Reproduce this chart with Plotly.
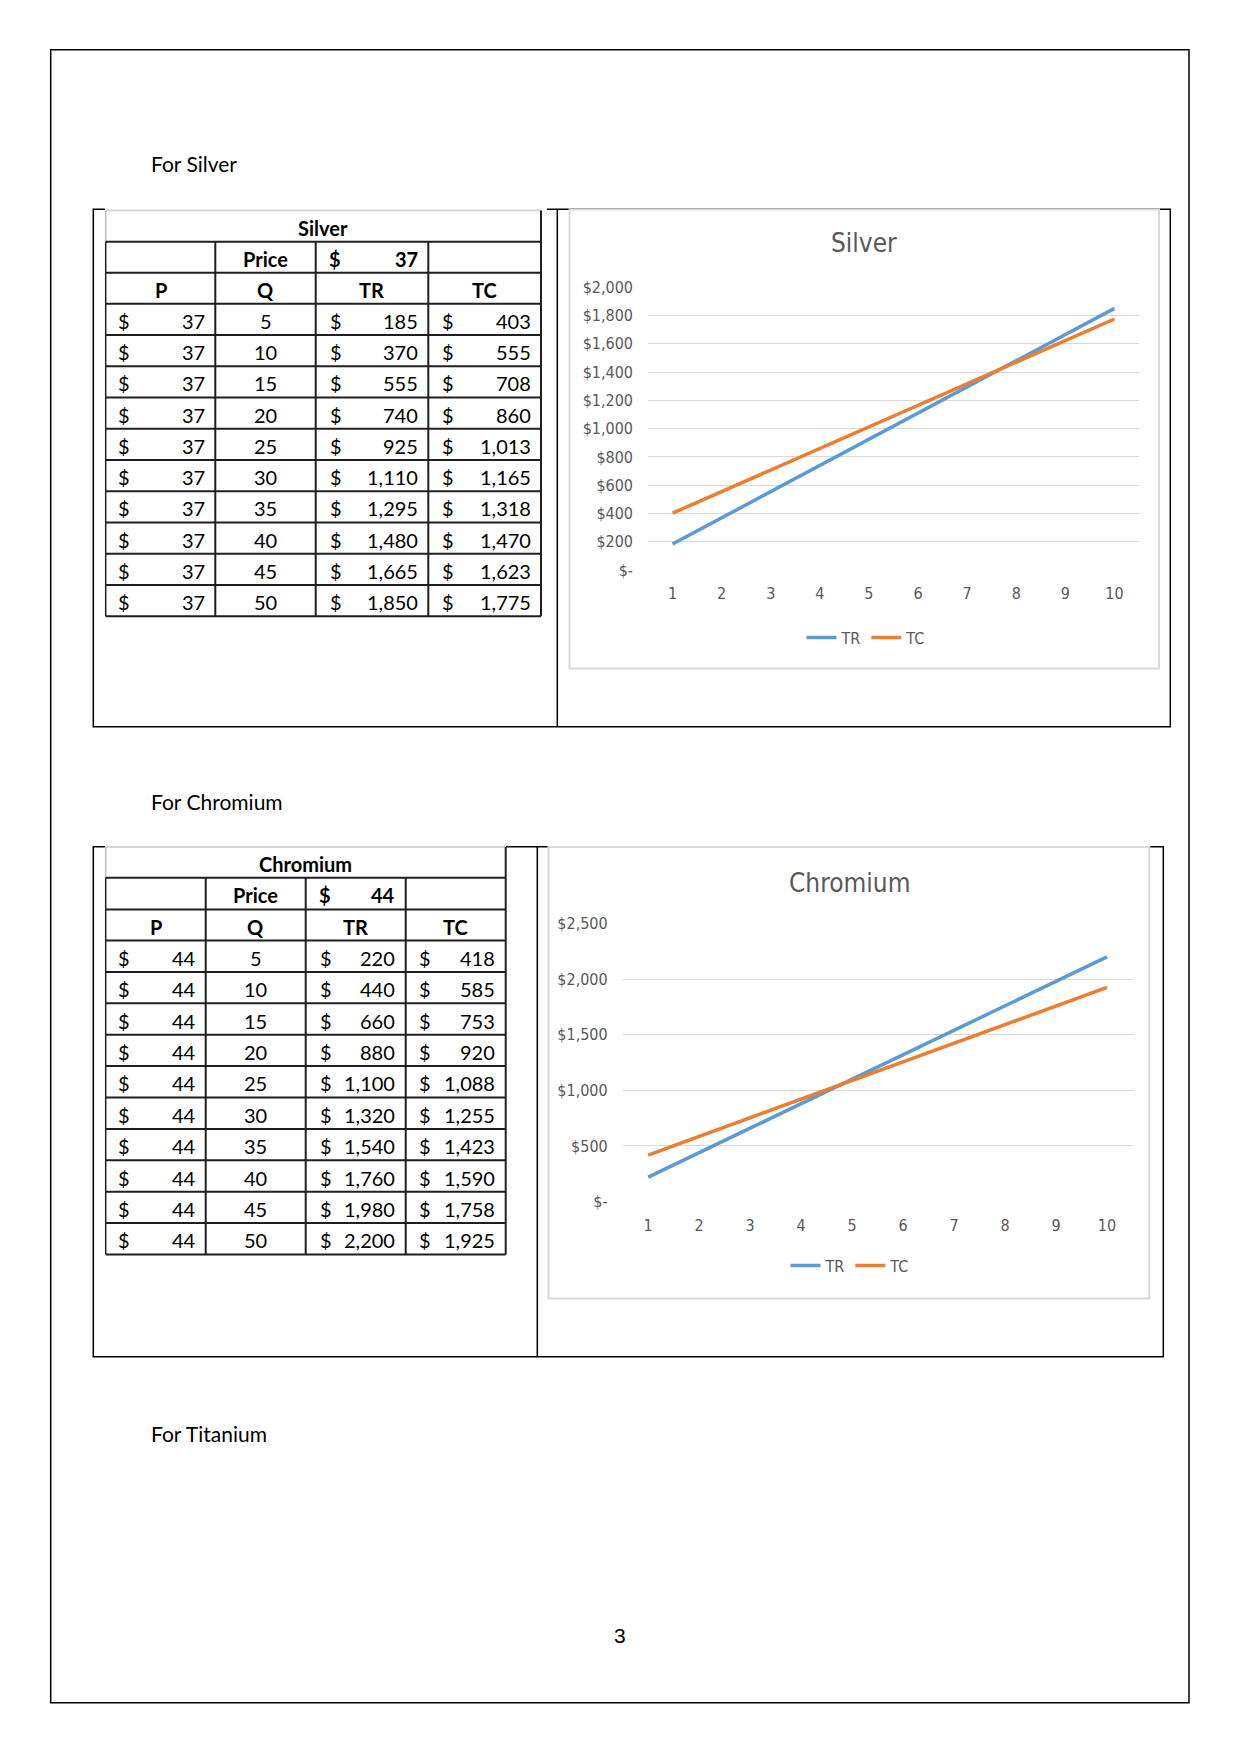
import plotly.graph_objects as go

W, H = 1241, 1754

# ---------------- data ----------------
chart_x = [1, 2, 3, 4, 5, 6, 7, 8, 9, 10]

silver_price = 37
silver_q = [5, 10, 15, 20, 25, 30, 35, 40, 45, 50]
silver_tr = [185, 370, 555, 740, 925, 1110, 1295, 1480, 1665, 1850]
silver_tc = [403, 555, 708, 860, 1013, 1165, 1318, 1470, 1623, 1775]
silver_yticks = [0, 200, 400, 600, 800, 1000, 1200, 1400, 1600, 1800, 2000]

chromium_price = 44
chromium_q = [5, 10, 15, 20, 25, 30, 35, 40, 45, 50]
chromium_tr = [220, 440, 660, 880, 1100, 1320, 1540, 1760, 1980, 2200]
chromium_tc = [418, 585, 753, 920, 1088, 1255, 1423, 1590, 1758, 1925]
chromium_yticks = [0, 500, 1000, 1500, 2000, 2500]

table_headers = ["P", "Q", "TR", "TC"]
series_names = ["TR", "TC"]
series_colors = ["#5B9BD5", "#ED7D31"]

# ---------------- helpers ----------------
BODY = "Lato, 'Open Sans', sans-serif"
NARROW = "'Liberation Sans Narrow', 'DejaVu Sans Condensed', Lato, sans-serif"
GRAY_TXT = "#595959"

# vertical calibration of the page (measured rendering offset / scale)
VA, VC = 0.98911, 9.55


def X(px):
    return px / W


def Y(py):
    return 1 - ((py - VC) / VA) / H


shapes = []
annotations = []


def line(x0, y0, x1, y1, color="#000000", width=1.5):
    shapes.append(dict(type="line", xref="paper", yref="paper",
                       x0=X(x0), y0=Y(y0), x1=X(x1), y1=Y(y1),
                       line=dict(color=color, width=width), layer="below"))


def rect(x0, y0, x1, y1, color="#000000", width=1.5, fill="rgba(0,0,0,0)"):
    shapes.append(dict(type="rect", xref="paper", yref="paper",
                       x0=X(x0), y0=Y(y0), x1=X(x1), y1=Y(y1),
                       line=dict(color=color, width=width), fillcolor=fill,
                       layer="below"))


def text(x, y, s, size=20, anchor="left", bold=False, color="#000000", family=BODY):
    if bold:
        s = "<b>" + s + "</b>"
    annotations.append(dict(xref="paper", yref="paper", x=X(x), y=Y(y), text=s,
                            showarrow=False, xanchor=anchor, yanchor="middle",
                            font=dict(size=size, color=color, family=family),
                            borderpad=0))


def fmt(v):
    return f"{v:,}"


def draw_table(title, price, q, tr, tc, cols, top, r1, r2, r3, bottom):
    nrows = len(q)
    rh = (bottom - r3) / nrows
    left, right = cols[0], cols[-1]
    dark = "#1f1f1f"
    # borders
    line(left, top, right, top, color="#d6d6d6", width=2)
    line(left, top, left, r1, color="#bfbfbf", width=1.5)
    line(left, r1, left, bottom, color=dark, width=1.5)
    line(right, top, right, bottom, color=dark, width=2)
    for yy in [r1, r2, r3] + [r3 + rh * (i + 1) for i in range(nrows)]:
        line(left, yy, right, yy, color=dark, width=2)
    for xx in cols[1:-1]:
        line(xx, r1, xx, bottom, color=dark, width=2)
    # title row
    text((left + right) / 2, (top + r1) / 2 + 1.5, title, bold=True, anchor="center")
    # price row
    yc = (r1 + r2) / 2 + 1.5
    text((cols[1] + cols[2]) / 2, yc, "Price", bold=True, anchor="center")
    text(cols[2] + 12, yc, "$", bold=True)
    text(cols[3] - 9.5, yc, str(price), bold=True, anchor="right")
    # header row
    yc = (r2 + r3) / 2 + 1.5
    for i, h in enumerate(table_headers):
        text((cols[i] + cols[i + 1]) / 2, yc, h, bold=True, anchor="center")
    # data rows
    for i in range(nrows):
        yc = r3 + rh * (i + 0.5) + 1.5
        text(cols[0] + 11.5, yc, "$")
        text(cols[1] - 9, yc, fmt(price), anchor="right")
        text((cols[1] + cols[2]) / 2, yc, str(q[i]), anchor="center")
        text(cols[2] + 13, yc, "$")
        text(cols[3] - 9.5, yc, fmt(tr[i]), anchor="right")
        text(cols[3] + 12.5, yc, "$")
        text(cols[4] - 9.5, yc, fmt(tc[i]), anchor="right")


def ytext(v):
    return "$-" if v == 0 else "$" + fmt(v)


# ---------------- page frame ----------------
rect(50.7, 50.3, 1189, 1703.3, width=1.5)

# Silver section box
rect(93.3, 209.7, 1170.3, 727.3, width=1.5)
line(557.3, 209.7, 557.3, 727.3, width=1.5)
# Chromium section box
rect(93.3, 847.3, 1163.3, 1357.3, width=1.5)
line(537.3, 847.3, 537.3, 1357.3, width=1.5)

# pasted "images" (white) covering the box lines
rect(105, 208, 547, 622, width=0, fill="#ffffff")
rect(569.5, 210, 1159, 669, color="#d9d9d9", width=2, fill="#ffffff")
rect(105, 846, 506, 1258, width=0, fill="#ffffff")
rect(548.5, 847.5, 1149.3, 1299, color="#d9d9d9", width=2, fill="#ffffff")

# tables
draw_table("Silver", silver_price, silver_q, silver_tr, silver_tc,
           [105.7, 215.3, 315.7, 428.3, 541], 211, 242.3, 273.3, 304.3, 616.7)
draw_table("Chromium", chromium_price, chromium_q, chromium_tr, chromium_tc,
           [105.7, 205.7, 305.7, 405.7, 505.7], 847.5, 878.3, 910, 941, 1255)

# page texts
text(150, 164.5, "For Silver", size=21)
text(150, 802, "For Chromium", size=21)
text(150, 1433.5, "For Titanium", size=21)
text(620, 1636, "3", size=21, anchor="center", family="'Liberation Sans', Arial, sans-serif")

# chart titles
text(864, 244, "Silver", size=26, anchor="center", color=GRAY_TXT, family=NARROW)
text(849, 883, "Chromium", size=26, anchor="center", color=GRAY_TXT, family=NARROW)

# ---------------- charts ----------------
fig = go.Figure()

for name, vals, col in zip(series_names, [silver_tr, silver_tc], series_colors):
    fig.add_trace(go.Scatter(x=chart_x, y=vals, mode="lines", name=name,
                             line=dict(color=col, width=3.5),
                             xaxis="x", yaxis="y", legend="legend"))
for name, vals, col in zip(series_names, [chromium_tr, chromium_tc], series_colors):
    fig.add_trace(go.Scatter(x=chart_x, y=vals, mode="lines", name=name,
                             line=dict(color=col, width=3.5),
                             xaxis="x2", yaxis="y2", legend="legend2"))

tickfont = dict(size=16, color=GRAY_TXT, family=NARROW)

xcommon = dict(range=[0.5, 10.5], tickvals=chart_x, showgrid=False, zeroline=False,
               showline=False, ticks="", tickfont=tickfont, ticklabelstandoff=12,
               fixedrange=True)
ycommon = dict(showgrid=True, gridcolor="#d9d9d9", gridwidth=1, zeroline=False,
               showline=False, ticks="", tickfont=tickfont, ticklabelstandoff=14,
               fixedrange=True)

fig.update_layout(
    width=W, height=H,
    margin=dict(l=0, r=0, t=0, b=0),
    paper_bgcolor="#ffffff", plot_bgcolor="rgba(0,0,0,0)",
    showlegend=True,
    xaxis=dict(domain=[X(648), X(1139)], anchor="y", **xcommon),
    yaxis=dict(domain=[Y(570.7), Y(287.7)], anchor="x", range=[0, 2000],
               tickvals=silver_yticks, ticktext=[ytext(v) for v in silver_yticks], **ycommon),
    xaxis2=dict(domain=[X(622.7), X(1132.5)], anchor="y2", **xcommon),
    yaxis2=dict(domain=[Y(1202), Y(924)], anchor="x2", range=[0, 2500],
                tickvals=chromium_yticks, ticktext=[ytext(v) for v in chromium_yticks], **ycommon),
    legend=dict(orientation="h", x=X(866), y=Y(638), xanchor="center", yanchor="middle",
                font=dict(size=16, color=GRAY_TXT, family=NARROW),
                bgcolor="rgba(0,0,0,0)", itemclick=False, itemdoubleclick=False),
    legend2=dict(orientation="h", x=X(850), y=Y(1266), xanchor="center", yanchor="middle",
                 font=dict(size=16, color=GRAY_TXT, family=NARROW),
                 bgcolor="rgba(0,0,0,0)", itemclick=False, itemdoubleclick=False),
    shapes=shapes,
    annotations=annotations,
)

fig.write_html("out.html")
